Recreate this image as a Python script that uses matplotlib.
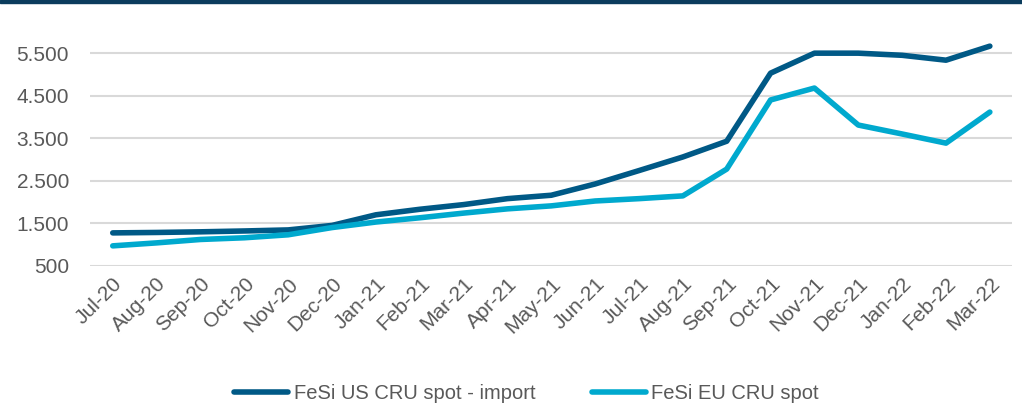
import matplotlib
matplotlib.use("Agg")
import matplotlib.pyplot as plt
from matplotlib.ticker import FuncFormatter
from matplotlib.patches import Rectangle

plt.rcParams['font.family'] = ['Liberation Sans', 'DejaVu Sans']

months = ["Jul-20", "Aug-20", "Sep-20", "Oct-20", "Nov-20", "Dec-20", "Jan-21",
          "Feb-21", "Mar-21", "Apr-21", "May-21", "Jun-21", "Jul-21", "Aug-21",
          "Sep-21", "Oct-21", "Nov-21", "Dec-21", "Jan-22", "Feb-22", "Mar-22"]
us_spot = [1275, 1285, 1300, 1320, 1345, 1450, 1700, 1830, 1940, 2080, 2160,
           2425, 2740, 3060, 3430, 5030, 5500, 5500, 5450, 5335, 5665]
eu_spot = [970, 1040, 1120, 1160, 1230, 1400, 1530, 1630, 1740, 1840, 1910,
           2025, 2080, 2145, 2775, 4400, 4680, 3810, 3600, 3385, 4115]
yticks = [500, 1500, 2500, 3500, 4500, 5500]

fig = plt.figure(figsize=(10.22, 4.09), dpi=100)
ax = fig.add_axes([0.088, 0.350, 0.902, 0.572])

x = range(len(months))
ax.plot(x, us_spot, color='#005986', lw=4, solid_capstyle='round',
        label='FeSi US CRU spot - import')
ax.plot(x, eu_spot, color='#00A9CE', lw=4, solid_capstyle='round',
        label='FeSi EU CRU spot')

ax.set_xlim(-0.52, len(months) - 0.5)
ax.set_ylim(500, 6000)
ax.set_yticks(yticks)
ax.yaxis.set_major_formatter(FuncFormatter(lambda v, p: f"{int(v):,}".replace(",", ".")))
ax.grid(axis='y', color='#d9d9d9', lw=1.5)
ax.set_axisbelow(True)
for s in ax.spines.values():
    s.set_visible(False)
ax.tick_params(length=0, colors='#595959', labelsize=15)
ax.tick_params(axis='y', pad=15)
ax.tick_params(axis='x', pad=6)
ax.set_xticks(list(x))
ax.set_xticklabels(months, rotation=45, ha='right', rotation_mode='anchor')

leg = fig.legend(loc='lower center', bbox_to_anchor=(0.515, -0.03), ncol=2, frameon=False,
                 fontsize=14.5, handlelength=2.7, columnspacing=2.8, handletextpad=0.25)
for t in leg.get_texts():
    t.set_color('#595959')

fig.patches.append(Rectangle((0, 0.992), 1, 0.008, transform=fig.transFigure,
                             color='#0b3c5d', zorder=5))

fig.savefig("out.png", dpi=100)
